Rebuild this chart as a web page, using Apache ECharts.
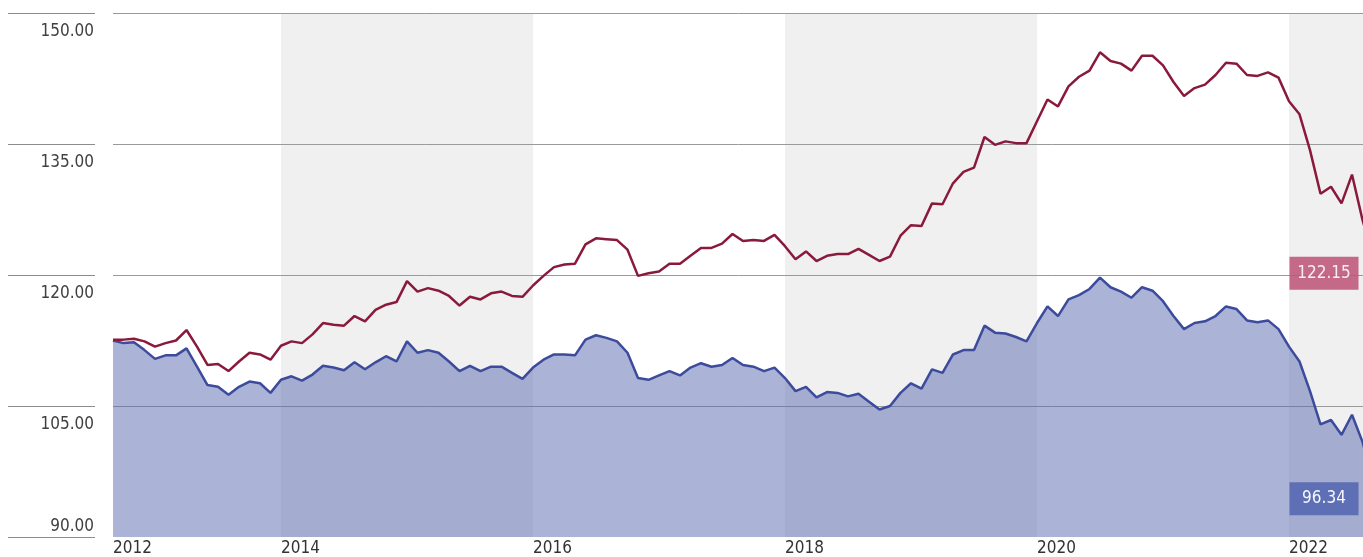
<!DOCTYPE html>
<html>
<head>
<meta charset="utf-8">
<script src="https://cdn.jsdelivr.net/npm/echarts@6/dist/echarts.min.js"></script>
<style>
  html, body { margin: 0; padding: 0; background: #fff; }
  #chart { width: 1363px; height: 557px; }
</style>
</head>
<body>
<div id="chart"></div>
<script>
// monthly points, Sep 2012 .. Sep 2022
var startYear = 2012, startMonth = 9, monthCount = 121;

var redValues = [
  112.6, 112.6, 112.7, 112.4, 111.8, 112.2, 112.5, 113.7, 111.8, 109.7,
  109.8, 109.0, 110.1, 111.1, 110.9, 110.3, 111.9, 112.4, 112.2, 113.2,
  114.5, 114.3, 114.2, 115.3, 114.7, 116.0, 116.6, 116.9, 119.3, 118.1,
  118.5, 118.2, 117.6, 116.5, 117.5, 117.2, 117.9, 118.1, 117.6, 117.5,
  118.8, 119.9, 120.9, 121.2, 121.3, 123.5, 124.2, 124.1, 124.0, 122.9,
  119.9, 120.2, 120.4, 121.3, 121.3, 122.2, 123.1, 123.1, 123.6, 124.7,
  123.9, 124.0, 123.9, 124.6, 123.3, 121.8, 122.7, 121.6, 122.2, 122.4,
  122.4, 123.0, 122.3, 121.6, 122.1, 124.5, 125.7, 125.6, 128.2, 128.1,
  130.5, 131.8, 132.3, 135.8, 134.9, 135.3, 135.1, 135.1, 137.6, 140.1,
  139.3, 141.6, 142.7, 143.4, 145.5, 144.5, 144.2, 143.4, 145.1, 145.1,
  144.0, 142.1, 140.5, 141.4, 141.8, 142.9, 144.3, 144.2, 142.9, 142.8,
  143.2, 142.6, 139.9, 138.4, 134.3, 129.3, 130.1, 128.2, 131.5, 126.3,
  122.15
];

var blueValues = [
  112.5, 112.2, 112.3, 111.4, 110.4, 110.8, 110.8, 111.6, 109.5, 107.4,
  107.2, 106.3, 107.2, 107.8, 107.6, 106.5, 108.0, 108.4, 107.9, 108.6,
  109.6, 109.4, 109.1, 110.0, 109.2, 110.0, 110.7, 110.1, 112.4, 111.1,
  111.4, 111.1, 110.1, 109.0, 109.6, 109.0, 109.5, 109.5, 108.8, 108.1,
  109.4, 110.3, 110.9, 110.9, 110.8, 112.6, 113.1, 112.8, 112.4, 111.1,
  108.2, 108.0, 108.5, 109.0, 108.5, 109.4, 109.9, 109.5, 109.7, 110.5,
  109.7, 109.5, 109.0, 109.4, 108.2, 106.7, 107.2, 106.0, 106.6, 106.5,
  106.1, 106.4, 105.5, 104.6, 105.0, 106.5, 107.6, 107.0, 109.2, 108.8,
  110.9, 111.4, 111.4, 114.2, 113.4, 113.3, 112.9, 112.4, 114.5, 116.4,
  115.3, 117.2, 117.7, 118.4, 119.7, 118.6, 118.1, 117.4, 118.6, 118.2,
  117.0, 115.3, 113.8, 114.5, 114.7, 115.3, 116.4, 116.1, 114.8, 114.6,
  114.8, 113.8, 111.8, 110.1, 106.7, 102.9, 103.4, 101.7, 104.0, 100.9,
  96.34
];

var yTicks = [90, 105, 120, 135, 150];

var months = [];
for (var m = 0; m < monthCount; m++) {
  var y = startYear + Math.floor((startMonth - 1 + m) / 12);
  var mo = (startMonth - 1 + m) % 12 + 1;
  months.push(y + '-' + (mo < 10 ? '0' + mo : mo));
}

var fontNarrow = '"Liberation Sans Narrow", "DejaVu Sans Condensed", "Liberation Sans", sans-serif';
var redColor = '#8a1a3b';
var blueColor = '#3c4b9c';

function isEvenJanuary(v) {
  return v.slice(5) === '01' && parseInt(v.slice(0, 4), 10) % 2 === 0;
}

var chart = echarts.init(document.getElementById('chart'));

chart.setOption({
  animation: false,
  // plot runs one month past the right edge of the picture
  grid: { left: 113, top: 13, width: 1260, height: 524, outerBoundsMode: 'none' },
  xAxis: {
    type: 'category',
    data: months,
    boundaryGap: false,
    z: 0,
    axisLine: { show: false },
    axisTick: { show: false },
    axisLabel: {
      interval: function (i, v) { return i === 0 || isEvenJanuary(v); },
      formatter: function (v) { return v.slice(0, 4); },
      align: 'left',
      margin: 3,
      color: '#333',
      fontSize: 17,
      fontFamily: fontNarrow
    },
    splitLine: { show: false },
    splitArea: {
      show: true,
      interval: function (i, v) { return i === 0 || i === monthCount - 1 || isEvenJanuary(v); },
      areaStyle: { color: ['#ffffff', '#f0f0f0'] }
    }
  },
  yAxis: [
    {
      type: 'value',
      min: yTicks[0],
      max: yTicks[yTicks.length - 1],
      interval: 15,
      position: 'left',
      offset: 18,
      z: 1,
      axisLine: { show: false },
      axisTick: { show: true, length: 87, lineStyle: { color: '#8c8c8c', width: 1 } },
      axisLabel: {
        verticalAlign: 'top',
        margin: 1,
        padding: [10, 0, 0, 0],
        color: '#404040',
        fontSize: 17,
        fontFamily: fontNarrow,
        formatter: function (v) { return v === yTicks[0] ? '' : v.toFixed(2); }
      },
      splitLine: {
        show: true,
        lineStyle: { color: ['rgba(0,0,0,0)', '#9a9a9a', '#9a9a9a', '#9a9a9a', '#9a9a9a'], width: 1 }
      }
    },
    {
      type: 'value',
      min: yTicks[0],
      max: yTicks[yTicks.length - 1],
      interval: 15,
      position: 'left',
      offset: 18,
      z: 1,
      axisLine: { show: false },
      axisTick: { show: false },
      axisLabel: {
        verticalAlign: 'bottom',
        margin: 1,
        padding: [0, 0, 2, 0],
        color: '#404040',
        fontSize: 17,
        fontFamily: fontNarrow,
        formatter: function (v) { return v === yTicks[0] ? v.toFixed(2) : ''; }
      },
      splitLine: { show: false }
    }
  ],
  series: [
    {
      name: 'blue',
      type: 'line',
      data: blueValues,
      showSymbol: false,
      symbol: 'none',
      lineStyle: { color: blueColor, width: 2.5 },
      itemStyle: { color: blueColor },
      areaStyle: { color: '#5767b0', opacity: 0.5 },
      markPoint: {
        symbol: 'rect',
        symbolSize: [69, 33],
        symbolOffset: [-49, 17],
        itemStyle: { color: '#5b6bb3', opacity: 0.95 },
        label: {
          show: true,
          position: 'inside',
          color: '#fff',
          fontSize: 17,
          fontFamily: fontNarrow,
          formatter: function (p) { return p.value.toFixed(2); }
        },
        data: [{ coord: [months[monthCount - 1], blueValues[monthCount - 1]], value: blueValues[monthCount - 1] }]
      }
    },
    {
      name: 'red',
      type: 'line',
      data: redValues,
      showSymbol: false,
      symbol: 'none',
      lineStyle: { color: redColor, width: 2.5 },
      itemStyle: { color: redColor },
      markPoint: {
        symbol: 'rect',
        symbolSize: [69, 33],
        symbolOffset: [-49, 17],
        itemStyle: { color: '#bd5577', opacity: 0.88 },
        label: {
          show: true,
          position: 'inside',
          color: '#fff',
          fontSize: 17,
          fontFamily: fontNarrow,
          formatter: function (p) { return p.value.toFixed(2); }
        },
        data: [{ coord: [months[monthCount - 1], redValues[monthCount - 1]], value: redValues[monthCount - 1] }]
      }
    }
  ]
});
</script>
</body>
</html>
